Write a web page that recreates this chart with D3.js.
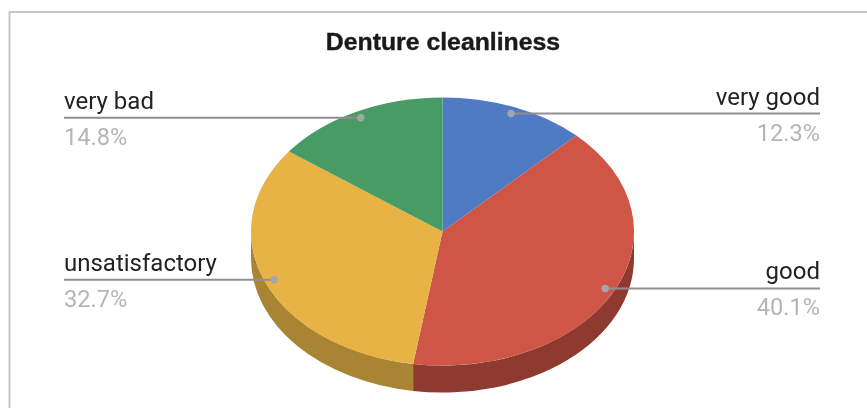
<!DOCTYPE html>
<html><head><meta charset="utf-8">
<script src="https://cdn.jsdelivr.net/npm/d3@7"></script>
<style>html,body{margin:0;padding:0;background:#fff}svg{display:block;filter:blur(0.35px)}</style>
</head><body><svg id="c" width="867" height="408"></svg>
<script>
const categories = ["very good","good","unsatisfactory","very bad"];
const values = [12.3,40.1,32.7,14.8];
const topColors = ["#4f7bc2","#cf5646","#e7b345","#479b65"];
const sideColors = ["#3a5b91","#8f3a30","#a98433","#33744b"];
const title = "Denture cleanliness";

const W=867,H=408,cx=442.5,cy=231.5,R=191.5,squash=0.70,depth=27;
const svg=d3.select("#c");
svg.append("path").attr("d",`M${W},12H9.5V${H}`).attr("fill","none").attr("stroke","#c6c6c6").attr("stroke-width",2);
svg.append("text").attr("x",443).attr("y",50).attr("text-anchor","middle")
  .attr("font-family","Liberation Sans").attr("font-weight",700).attr("font-size",24.8)
  .attr("fill","#1a1a1a").attr("stroke","#1a1a1a").attr("stroke-width",0.4).text(title);

const pie=d3.pie().sort(null).value(d=>d)(values);
const arc=d3.arc().innerRadius(0).outerRadius(R);
const pt=a=>[cx+R*Math.sin(a),cy-R*squash*Math.cos(a)];

// side wall: only the part of each slice on the front half of the rim
const sideG=svg.append("g");
pie.forEach((d,i)=>{
  const a0=Math.max(d.startAngle,Math.PI/2),a1=Math.min(d.endAngle,3*Math.PI/2);
  if(a1<=a0)return;
  const [x0,y0]=pt(a0),[x1,y1]=pt(a1);
  const r=`${R} ${R*squash} 0 0`;
  sideG.append("path").attr("fill",sideColors[i])
    .attr("d",`M${x0},${y0}A${r} 1 ${x1},${y1}L${x1},${y1+depth}A${r} 0 ${x0},${y0+depth}Z`);
});

const topG=svg.append("g").attr("transform",`translate(${cx},${cy}) scale(1,${squash})`);
topG.selectAll("path").data(pie).join("path").attr("d",arc).attr("fill",(d,i)=>topColors[i]);

const leader=d3.arc().innerRadius(R*0.95).outerRadius(R*0.95);
const font="Roboto";
pie.forEach((d,i)=>{
  const [px,py]=leader.centroid(d);
  const x=cx+px,y=cy+py*squash;
  const right=x>cx, lx=right?820:64, anchor=right?"end":"start";
  svg.append("line").attr("x1",lx).attr("x2",x).attr("y1",y).attr("y2",y).attr("stroke","#8f8f92").attr("stroke-width",2);
  svg.append("circle").attr("cx",x).attr("cy",y).attr("r",3.7).attr("fill","#a3a5a8");
  svg.append("text").attr("x",lx).attr("y",y-9).attr("text-anchor",anchor).attr("font-family",font).attr("font-size",24).attr("fill","#222").text(categories[i]);
  svg.append("text").attr("x",lx).attr("y",y+27).attr("text-anchor",anchor).attr("font-family",font).attr("font-size",23.6).attr("fill","#b4b5b7").text(values[i].toFixed(1)+"%");
});
</script></body></html>
